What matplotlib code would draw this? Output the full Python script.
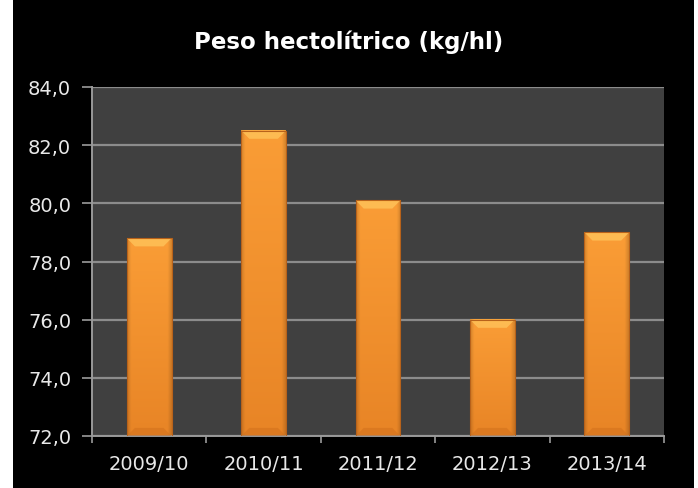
import numpy as np
import matplotlib.pyplot as plt
from matplotlib.patches import Rectangle, Polygon
from matplotlib.colors import to_rgb

# data
seasons = ['2009/10', '2010/11', '2011/12', '2012/13', '2013/14']
peso = [78.8, 82.5, 80.1, 76.0, 79.0]
yticks = [72, 74, 76, 78, 80, 82, 84]
title = 'Peso hectolítrico (kg/hl)'

plt.rcParams['font.family'] = ['DejaVu Sans']

fig = plt.figure(figsize=(6.98, 4.89), dpi=100)
fig.patch.set_facecolor('white')

# black panel behind the chart
bg = fig.add_axes([13 / 698, 0, (694 - 13) / 698, 1], zorder=-5)
bg.set_facecolor('black')
bg.set_xticks([])
bg.set_yticks([])
for s in bg.spines.values():
    s.set_visible(False)

ax = fig.add_axes([92 / 698, 1 - 437 / 489, 572 / 698, 349 / 489])
ax.set_facecolor('#404040')

ymin, ymax = yticks[0], yticks[-1]
ax.set_yticks(yticks)
ax.set_yticklabels([f'{t:.1f}'.replace('.', ',') for t in yticks])
ax.yaxis.grid(True, color='#8c8c8c', lw=1.6)
ax.set_axisbelow(True)

# bars: gradient fill plus a small bevel on top
w = 0.39
light = np.array(to_rgb('#FA9D36'))
dark = np.array(to_rgb('#E07A1F'))
ny, nx = 200, 60
ty = np.linspace(0, 1, ny)[:, None]
tx = np.linspace(-1, 1, nx)[None, :]
dx, dy = 0.07, 0.28
for i, v in enumerate(peso):
    img = dark + (light - dark) * (0.3 + 0.7 * ty[..., None])
    edge = 1 - 0.15 * np.clip((np.abs(tx) - 0.82) / 0.18, 0, 1)
    img = np.clip(img * edge[..., None], 0, 1)
    x0, x1 = i - w / 2, i + w / 2
    ax.imshow(img, extent=[x0, x1, ymin, v], origin='lower',
              aspect='auto', zorder=2, interpolation='bilinear')
    ax.add_patch(Polygon([(x0, v), (x1, v), (x1 - dx, v - dy), (x0 + dx, v - dy)],
                         closed=True, facecolor='#FFC35A', edgecolor='none',
                         alpha=0.8, zorder=3))
    ax.add_patch(Polygon([(x0, ymin), (x1, ymin), (x1 - dx, ymin + dy), (x0 + dx, ymin + dy)],
                         closed=True, facecolor='#D06F1C', edgecolor='none',
                         alpha=0.5, zorder=3))
    ax.add_patch(Rectangle((x0, ymin), w, v - ymin, facecolor='none',
                           edgecolor='#B8621A', lw=0.8, zorder=4))
ax.set_xlim(-0.5, len(seasons) - 0.5)
ax.set_ylim(ymin, ymax)

ax.set_xticks(range(len(seasons)))
ax.set_xticklabels(seasons)
ax.set_xticks(np.arange(-0.5, len(seasons)), minor=True)
ax.tick_params(axis='x', which='major', length=0, pad=13, labelsize=14, labelcolor='#E8E8E8')
ax.tick_params(axis='x', which='minor', length=5, width=1.2, color='#9a9a9a')
ax.tick_params(axis='y', length=7, width=1.2, color='#9a9a9a', pad=8,
               labelsize=14, labelcolor='#E8E8E8')

for s in ['top', 'right']:
    ax.spines[s].set_visible(False)
for s in ['left', 'bottom']:
    ax.spines[s].set_color('#9a9a9a')
    ax.spines[s].set_linewidth(1.4)

fig.text(0.5, 1 - 42 / 489, title, ha='center', va='center', color='white',
         fontsize=16.5, fontweight='bold')

fig.savefig('out.png', dpi=100, facecolor=fig.get_facecolor())
